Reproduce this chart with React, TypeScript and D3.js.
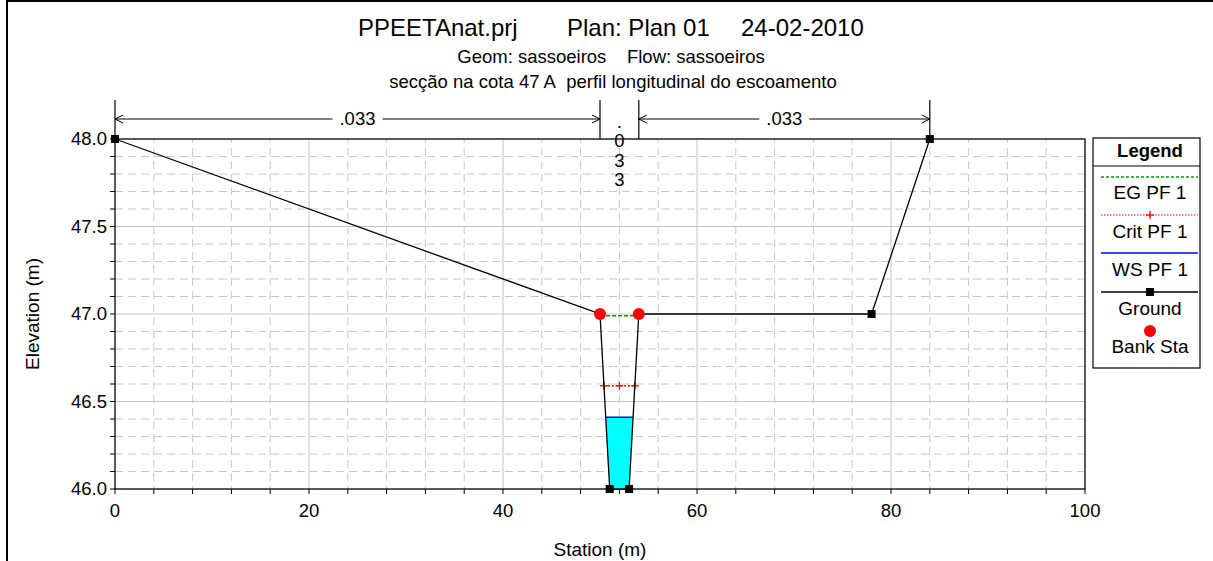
import React from "react";
import * as d3 from "d3";

const groundSta = [0, 50, 51, 53, 54, 78, 84];
const groundElev = [48, 47, 46, 46, 47, 47, 48];
const bankSta = [50, 54];
const bankElev = [47, 47];
const egSta = [50.01, 53.99];
const egElev = 46.99;
const critSta = [50.41, 52.0, 53.59];
const critElev = 46.59;
const wsElev = 46.41;
const manningBreaks = [0, 50, 54, 84];
const manningN = [".033", ".033", ".033"];
const xTicks = [0, 20, 40, 60, 80, 100];
const yTicks = [46.0, 46.5, 47.0, 47.5, 48.0];
const legendItems = ["EG PF 1", "Crit PF 1", "WS PF 1", "Ground", "Bank Sta"];

const W = 1213, H = 561;
const L = 115, R = 1085, T = 139, B = 489;
const FONT = "'Liberation Sans', Arial, Helvetica, sans-serif";

export default function App() {
  const x = d3.scaleLinear().domain([0, 100]).range([L, R]);
  const y = d3.scaleLinear().domain([46, 48]).range([B, T]);

  const minorX = d3.range(0, 100.001, 4);
  const majorX = d3.range(0, 100.001, 20);
  const minorY = d3.range(0, 21).map((i) => 46 + i * 0.1);
  const majorY = yTicks;

  const groundPts: [number, number][] = groundSta.map((s, i) => [s, groundElev[i]]);
  const line = d3.line<[number, number]>().x((d) => x(d[0])).y((d) => y(d[1]));

  const interp = (i: number) => {
    const [s0, e0] = groundPts[i];
    const [s1, e1] = groundPts[i + 1];
    return s0 + ((wsElev - e0) / (e1 - e0)) * (s1 - s0);
  };
  const wsLeft = interp(1);
  const wsRight = interp(3);
  const water: [number, number][] = [
    [wsLeft, wsElev],
    ...groundPts.filter((p) => p[1] < wsElev && p[0] > wsLeft && p[0] < wsRight),
    [wsRight, wsElev],
  ];

  const isMajorY = (v: number) => majorY.some((m) => Math.abs(m - v) < 1e-6);
  const isMajorX = (v: number) => majorX.some((m) => Math.abs(m - v) < 1e-6);

  const cross = (cx: number, cy: number, s: number, key: string, color = "#ff0000") => (
    <g key={key} stroke={color} strokeWidth={1.3}>
      <line x1={cx - s} x2={cx + s} y1={cy} y2={cy} />
      <line x1={cx} x2={cx} y1={cy - s} y2={cy + s} />
    </g>
  );

  const annY = 119;
  const arrow = (xTip: number, dir: number, key: string) => (
    <path key={key} d={`M${xTip - dir * 8},${annY - 4} L${xTip},${annY} L${xTip - dir * 8},${annY + 4}`} fill="none" stroke="#000" strokeWidth={1} />
  );

  const legX0 = 1093, legX1 = 1200, legCx = 1150;
  const legLineY = [177, 215, 253, 292];
  const legTextY = [199, 238, 276, 315, 353];

  return (
    <svg width={W} height={H} style={{ position: "absolute", left: 0, top: 0, background: "#fff" }} fontFamily={FONT}>
      <rect x={0} y={0} width={W} height={H} fill="#fff" />
      <line x1={7} x2={7} y1={0} y2={H} stroke="#000" strokeWidth={2} />
      <line x1={6} x2={W} y1={1} y2={1} stroke="#000" strokeWidth={2} />

      <g fontSize={24} fill="#000">
        <text x={358} y={36}>PPEETAnat.prj</text>
        <text x={567} y={36}>Plan: Plan 01</text>
        <text x={741} y={36}>24-02-2010</text>
      </g>
      <text x={611} y={63} fontSize={18.5} textAnchor="middle">Geom: sassoeiros{"\u00a0\u00a0\u00a0\u00a0"}Flow: sassoeiros</text>
      <text x={613} y={88} fontSize={18.5} textAnchor="middle">secção na cota 47 A{"\u00a0\u00a0"}perfil longitudinal do escoamento</text>

      {minorY.filter((v) => !isMajorY(v)).map((v, i) => (
        <line key={"my" + i} x1={L} x2={R} y1={y(v)} y2={y(v)} stroke="#c8c8c8" strokeDasharray="8 5" />
      ))}
      {minorX.filter((v) => !isMajorX(v)).map((v, i) => (
        <line key={"mx" + i} x1={x(v)} x2={x(v)} y1={T} y2={B} stroke="#c8c8c8" strokeDasharray="8 5" strokeDashoffset={4} />
      ))}
      {majorY.map((v, i) => (
        <line key={"My" + i} x1={L} x2={R} y1={y(v)} y2={y(v)} stroke="#c4c4c4" />
      ))}
      {majorX.map((v, i) => (
        <line key={"Mx" + i} x1={x(v)} x2={x(v)} y1={T} y2={B} stroke="#c4c4c4" />
      ))}

      <rect x={L} y={T} width={R - L} height={B - T} fill="none" stroke="#000" strokeWidth={1.2} />

      {minorY.map((v, i) => (
        <line key={"ty" + i} x1={L - 5} x2={L} y1={y(v)} y2={y(v)} stroke="#000" />
      ))}
      {minorX.map((v, i) => (
        <line key={"tx" + i} x1={x(v)} x2={x(v)} y1={B} y2={B + 5} stroke="#000" />
      ))}
      {yTicks.map((v, i) => (
        <text key={"yl" + i} x={L - 8} y={y(v) + 6} fontSize={18.5} textAnchor="end">{v.toFixed(1)}</text>
      ))}
      {xTicks.map((v, i) => (
        <text key={"xl" + i} x={x(v)} y={517} fontSize={18.5} textAnchor="middle">{v}</text>
      ))}
      <text x={600} y={556} fontSize={19} textAnchor="middle">Station (m)</text>
      <text transform={`translate(39,314) rotate(-90)`} fontSize={19} textAnchor="middle">Elevation (m)</text>

      {manningBreaks.map((s, i) => (
        <line key={"mb" + i} x1={x(s)} x2={x(s)} y1={100} y2={T} stroke="#000" strokeWidth={1.2} />
      ))}
      {manningN.map((n, i) => {
        const a = x(manningBreaks[i]);
        const b = x(manningBreaks[i + 1]);
        const c = (a + b) / 2;
        if (b - a < 60) {
          return (
            <g key={"mn" + i} fontSize={18.5} textAnchor="middle">
              {n.split("").map((ch, j) => (
                <text key={j} x={c} y={128 + j * 19.3}>{ch}</text>
              ))}
            </g>
          );
        }
        return (
          <g key={"mn" + i}>
            <line x1={a} x2={c - 25} y1={annY} y2={annY} stroke="#000" />
            <line x1={c + 25} x2={b} y1={annY} y2={annY} stroke="#000" />
            {arrow(a, -1, "l")}
            {arrow(b, 1, "r")}
            <text x={c} y={annY + 6} fontSize={18.5} textAnchor="middle">{n}</text>
          </g>
        );
      })}

      <path d={line(water) + "Z"} fill="#00ffff" stroke="none" />
      <line x1={x(wsLeft)} x2={x(wsRight)} y1={y(wsElev)} y2={y(wsElev)} stroke="#0000ff" strokeWidth={1.5} />

      <line x1={x(egSta[0])} x2={x(egSta[1])} y1={y(egElev)} y2={y(egElev)} stroke="#009900" strokeWidth={1.3} strokeDasharray="4 2" />

      <path d={line(critSta.map((s) => [s, critElev] as [number, number])) || ""} stroke="#ff0000" strokeWidth={1.3} strokeDasharray="2 2" fill="none" />
      {critSta.map((s, i) => cross(x(s), y(critElev), 4, "c" + i))}

      <path d={line(groundPts) || ""} fill="none" stroke="#000" strokeWidth={1.3} />
      {groundPts.map((p, i) => (
        <rect key={"g" + i} x={x(p[0]) - 4} y={y(p[1]) - 4} width={8} height={8} fill="#000" />
      ))}
      {bankSta.map((s, i) => (
        <circle key={"b" + i} cx={x(s)} cy={y(bankElev[i])} r={6} fill="#ff0000" />
      ))}

      <rect x={legX0} y={138} width={legX1 - legX0} height={230} fill="#fff" stroke="#000" strokeWidth={1.2} />
      <line x1={legX0} x2={legX1} y1={166} y2={166} stroke="#000" strokeWidth={1.2} />
      <text x={legCx} y={157} fontSize={18.5} fontWeight="bold" textAnchor="middle">Legend</text>
      <line x1={1101} x2={1198} y1={legLineY[0]} y2={legLineY[0]} stroke="#009900" strokeWidth={1.3} strokeDasharray="3 2" />
      <line x1={1101} x2={1198} y1={legLineY[1]} y2={legLineY[1]} stroke="#ff0000" strokeWidth={1} strokeDasharray="1.5 1.5" />
      {cross(legCx, legLineY[1], 4, "lc")}
      <line x1={1101} x2={1198} y1={legLineY[2]} y2={legLineY[2]} stroke="#0000ff" strokeWidth={1.3} />
      <line x1={1101} x2={1198} y1={legLineY[3]} y2={legLineY[3]} stroke="#000" strokeWidth={1.3} />
      <rect x={legCx - 4} y={legLineY[3] - 4} width={8} height={8} fill="#000" />
      <circle cx={legCx} cy={331} r={6} fill="#ff0000" />
      {legendItems.map((t, i) => (
        <text key={"lt" + i} x={legCx} y={legTextY[i]} fontSize={19} textAnchor="middle">{t}</text>
      ))}
    </svg>
  );
}
